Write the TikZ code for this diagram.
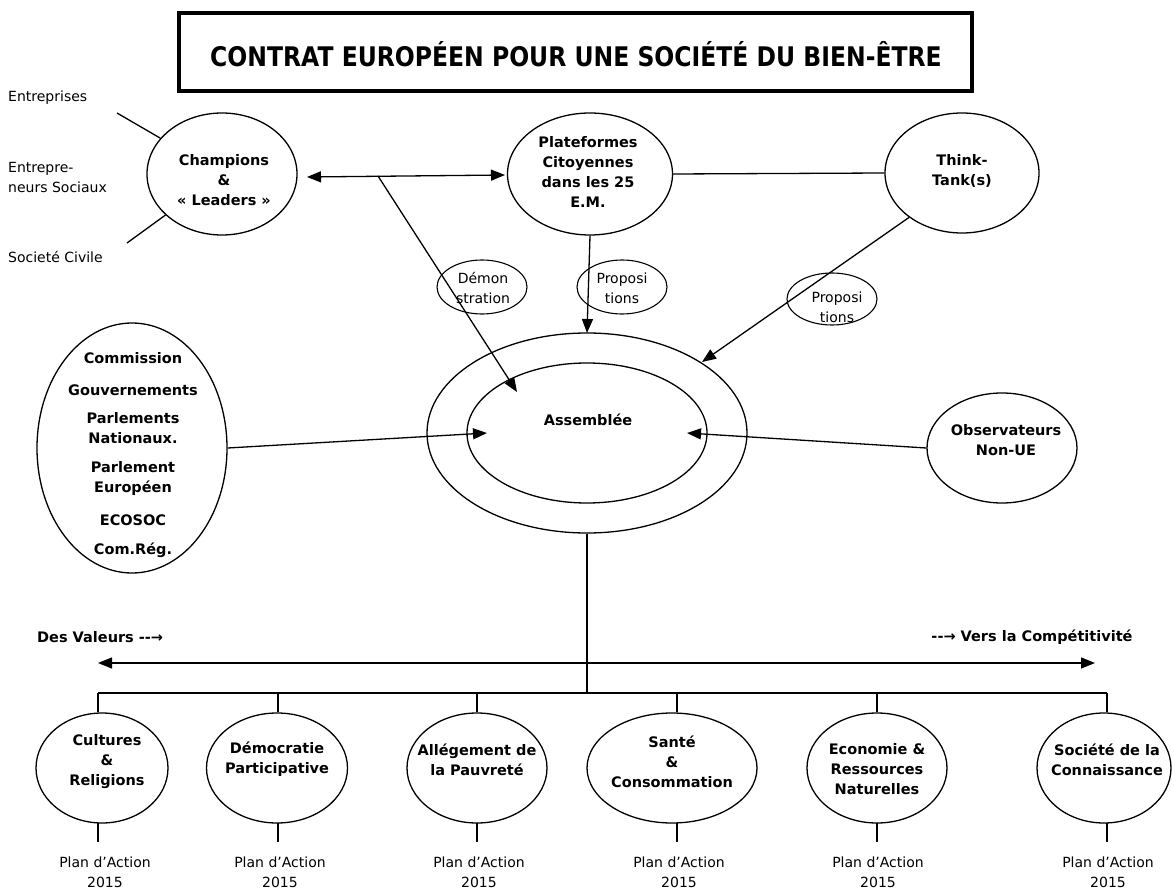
\documentclass[tikz,border=0pt]{standalone}
\usepackage{fontspec}
\setmainfont{DejaVu Sans}
\usetikzlibrary{shapes.geometric,arrows.meta}
\tikzset{
  ell/.style={draw, ellipse, inner sep=0pt, line width=1.3pt},
  bt/.style={font=\bfseries\fontsize{14.5}{20}\selectfont, align=center, inner sep=0pt},
  rt/.style={font=\fontsize{14}{20}\selectfont, align=center, inner sep=0pt},
  lt/.style={font=\fontsize{14}{20}\selectfont, align=left, inner sep=0pt, anchor=west},
  ln/.style={line width=1.3pt},
  arr/.style={line width=1.3pt, -{Triangle[length=14pt,width=11pt]}},
  darr/.style={line width=1.3pt, {Triangle[length=14pt,width=11pt]}-{Triangle[length=14pt,width=11pt]}}
}
\begin{document}
\begin{tikzpicture}[x=1pt,y=-1pt]
\useasboundingbox (0,0) rectangle (1172,890);
% title
\node[draw, line width=4pt, minimum width=793pt, minimum height=78pt, inner sep=0pt] (title) at (575,52) {};
\node[inner sep=0pt] (titletxt) at (576,54) {\scalebox{0.87}[1]{\bfseries\fontsize{27}{30}\selectfont CONTRAT EUROPÉEN POUR UNE SOCIÉTÉ DU BIEN-ÊTRE}};
% left labels
\node[lt] (entr) at (8,98) {Entreprises};
\node[lt] (entrsoc) at (8,177) {Entrepre-\\neurs Sociaux};
\node[lt] (socciv) at (8,257) {Societé Civile};
\coordinate (entrA) at (117,113);
\coordinate (socA) at (127,243);
% top ellipses
\node[ell, minimum width=150pt, minimum height=122pt] (champ) at (222,174) {};
\node[bt] (champtxt) at (224,180) {Champions\\\&\\« Leaders »};
\node[ell, minimum width=165pt, minimum height=122pt] (plat) at (590,174) {};
\node[bt] (plattxt) at (588,172) {Plateformes\\Citoyennes\\dans les 25\\E.M.};
\node[ell, minimum width=154pt, minimum height=120pt] (think) at (962,173) {};
\node[bt] (thinktxt) at (962,171) {Think-\\Tank(s)};
\draw[ln] (entrA) -- (champ);
\draw[ln] (socA) -- (champ);
% small label ellipses
\node[ell, line width=1.1pt, minimum width=90pt, minimum height=54pt] (demo) at (482,287) {};
\node[rt] (demotxt) at (483,288) {Démon\\stration};
\node[ell, line width=1.1pt, minimum width=90pt, minimum height=54pt] (prop1) at (622,287) {};
\node[rt] (prop1txt) at (622,288) {Proposi\\tions};
\node[ell, line width=1.1pt, minimum width=90pt, minimum height=52pt] (prop2) at (832,299) {};
\node[rt] (prop2txt) at (837,307) {Proposi\\tions};
% assembly
\node[ell, minimum width=320pt, minimum height=200pt] (assout) at (587,433) {};
\node[ell, minimum width=240pt, minimum height=140pt] (assin) at (587,433) {};
\node[bt] (asstxt) at (588,420) {Assemblée};
% left institutions
\node[ell, minimum width=190pt, minimum height=250pt] (inst) at (132,448) {};
\node[bt] (i1) at (133,358) {Commission};
\node[bt] (i2) at (133,390) {Gouvernements};
\node[bt] (i3) at (133,428) {Parlements\\Nationaux.};
\node[bt] (i4) at (133,478) {Parlement\\Européen};
\node[bt] (i5) at (133,520) {ECOSOC};
\node[bt] (i6) at (133,550) {Com.Rég.};
% observers
\node[ell, minimum width=150pt, minimum height=110pt] (obs) at (1002,448) {};
\node[bt] (obstxt) at (1006,440) {Observateurs\\Non-UE};
% connectors top
\coordinate (dl) at (307,177);
\coordinate (dr) at (505,175);
\coordinate (demoS) at (378,176);
\coordinate (demoT) at (517,392);
\coordinate (platT) at (587,333);
\coordinate (thinkT) at (702,362);
\coordinate (instT) at (487,433);
\coordinate (obsT) at (687,433);
\draw[darr] (dl) -- (dr);
\draw[ln] (plat.east) -- (think.west);
\draw[arr] (demoS) -- (demoT);
\draw[arr] (plat.south) -- (platT);
\draw[arr] (think.220) -- (thinkT);
\draw[arr] (inst.east) -- (instT);
\draw[arr] (obs.west) -- (obsT);
% axis
\node[bt, anchor=west] (valeurs) at (37,637) {Des Valeurs -{}-→};
\node[bt] (compet) at (1032,637) {-{}-→ Vers la Compétitivité};
\coordinate (axL) at (98,663);
\coordinate (axR) at (1095,663);
\draw[darr] (axL) -- (axR);
\coordinate (bus) at (587,693);
\draw[ln] (assout.south) -- (bus);
% bottom ellipses
\node[ell, minimum width=132pt, minimum height=110pt] (b1) at (102,768) {};
\node[ell, minimum width=141pt, minimum height=110pt] (b2) at (277,768) {};
\node[ell, minimum width=140pt, minimum height=110pt] (b3) at (477,768) {};
\node[ell, minimum width=170pt, minimum height=110pt] (b4) at (672,768) {};
\node[ell, minimum width=140pt, minimum height=110pt] (b5) at (877,768) {};
\node[ell, minimum width=134pt, minimum height=110pt] (b6) at (1104,768) {};
\node[bt] (b1t) at (107,762) {Cultures\\\&\\Religions};
\node[bt] (b2t) at (277,759) {Démocratie\\Participative};
\node[bt] (b3t) at (477,760) {Allégement de\\la Pauvreté};
\node[bt] (b4t) at (672,762) {Santé\\\&\\Consommation};
\node[bt] (b5t) at (877,769) {Economie \&\\Ressources\\Naturelles};
\node[bt] (b6t) at (1107,760) {Société de la\\Connaissance};
% bus line
\coordinate (busL) at (98,693);
\coordinate (busR) at (1107,693);
\draw[ln] (busL) -- (busR);
\foreach \n/\x in {b1/98,b2/278,b3/477,b4/677,b5/877,b6/1107}{
  \draw[ln] (\x,693) -- (\x,712);
  \draw[ln] (\x,823) -- (\x,842);
}
% plans
\node[rt] (p1) at (105,872) {Plan d’Action\\2015};
\node[rt] (p2) at (280,872) {Plan d’Action\\2015};
\node[rt] (p3) at (479,872) {Plan d’Action\\2015};
\node[rt] (p4) at (679,872) {Plan d’Action\\2015};
\node[rt] (p5) at (878,872) {Plan d’Action\\2015};
\node[rt] (p6) at (1108,872) {Plan d’Action\\2015};
\end{tikzpicture}
\end{document}
